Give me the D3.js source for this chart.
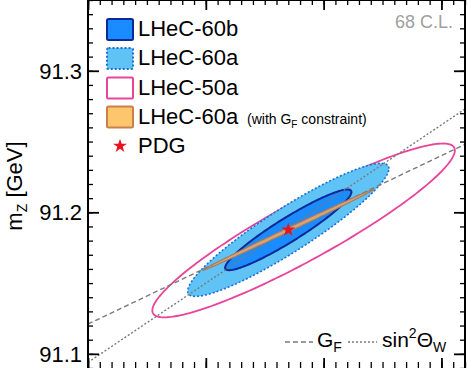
<!DOCTYPE html>
<html><head><meta charset="utf-8">
<script src="https://cdn.jsdelivr.net/npm/d3@7"></script>
<style>
body{margin:0;background:#fff}
svg{display:block}
text{font-family:"Liberation Sans",Arial,Helvetica,sans-serif}
</style>
</head><body>
<svg id="chart" width="474" height="368"></svg>
<script>
// ---------------- data ----------------
const seriesNames = ["LHeC-50a", "LHeC-60a", "LHeC-60b", "LHeC-60a"];
const centerMW = [80.3915, 80.385, 80.385, 80.385];
const centerMZ = [91.1872, 91.1876, 91.1876, 91.1876];
const halfMW   = [0.0642, 0.0427, 0.0268, 0.0363];   // x half-extent of each 68% C.L. contour
const halfMZ   = [0.0614, 0.0470, 0.0285, 0.0286];   // y half-extent
const corr     = [0.921, 0.921, 0.938, 0.9986];       // correlation
const pdgMW = [80.385];
const pdgMZ = [91.1876];
const gfLineMW = [80.30, 80.46];
const gfLineMZ = [91.121, 91.248];
const swLineMW = [80.30, 80.46];
const swLineMZ = [91.094, 91.273];
const yTickValues = [91.1, 91.2, 91.3];
const yTickLabels = ["91.1", "91.2", "91.3"];
const xTickValues = [80.30, 80.35, 80.40, 80.45];
const xDomain = [80.30, 80.46];
const yDomain = [91.09, 91.35];

// ---------------- layout ----------------
const svg = d3.select("#chart");
const L = 88, R = 465, T = 0, B = 368;
const x = d3.scaleLinear().domain(xDomain).range([L, R]);
const y = d3.scaleLinear().domain(yDomain).range([B, T]);

svg.append("defs").append("clipPath").attr("id", "plotclip")
  .append("rect").attr("x", L).attr("y", T).attr("width", R - L).attr("height", B - T);

const plot = svg.append("g").attr("clip-path", "url(#plotclip)");

function ellipsePts(i) {
  const pts = [], n = 240, s = Math.sqrt(1 - corr[i] * corr[i]);
  for (let k = 0; k <= n; k++) {
    const t = 2 * Math.PI * k / n;
    pts.push([centerMW[i] + halfMW[i] * Math.cos(t),
              centerMZ[i] + halfMZ[i] * (corr[i] * Math.cos(t) + s * Math.sin(t))]);
  }
  return pts;
}
const ell = d3.line().x(d => x(d[0])).y(d => y(d[1])).curve(d3.curveLinearClosed);

const styles = [
  {fill: "none",    stroke: "#e8449b", width: 1.8, dash: null},
  {fill: "#5fc3f6", stroke: "#1b6fd8", width: 1.6, dash: "2,2"},
  {fill: "#1a8cff", stroke: "#0b2a98", width: 2,   dash: null},
  {fill: "#d6a377", stroke: "#a87a5c", width: 1.1, dash: null}
];

// pink, light blue, dark blue
[0, 1, 2].forEach(i => {
  plot.append("path").attr("d", ell(ellipsePts(i)))
    .attr("fill", styles[i].fill).attr("stroke", styles[i].stroke)
    .attr("stroke-width", styles[i].width)
    .attr("stroke-dasharray", styles[i].dash);
});

// constraint lines
const seg = d3.line().x(d => x(d[0])).y(d => y(d[1]));
plot.append("path").attr("d", seg(gfLineMW.map((w, k) => [w, gfLineMZ[k]])))
  .attr("fill", "none").attr("stroke", "#7a7a7a").attr("stroke-width", 1.4)
  .attr("stroke-dasharray", "5,3");
plot.append("path").attr("d", seg(swLineMW.map((w, k) => [w, swLineMZ[k]])))
  .attr("fill", "none").attr("stroke", "#7a7a7a").attr("stroke-width", 1.4)
  .attr("stroke-dasharray", "2,2");

// orange G_F-constrained contour
plot.append("path").attr("d", ell(ellipsePts(3)))
  .attr("fill", styles[3].fill).attr("stroke", styles[3].stroke)
  .attr("stroke-width", styles[3].width);

// PDG star
plot.selectAll(".pdg").data(pdgMW).enter().append("path")
  .attr("transform", (d, k) => `translate(${x(d)},${y(pdgMZ[k])})`)
  .attr("d", d3.symbol().type(d3.symbolStar).size(60))
  .attr("fill", "#e8141b");

// ---------------- axes ----------------
const yMinor = d3.range(91.09, 91.3501, 0.01).map(v => +v.toFixed(3));
const xMinor = d3.range(80.30, 80.4601, 0.005).map(v => +v.toFixed(3));

function tickGroup(axis, transform) {
  const g = svg.append("g").attr("transform", transform).call(axis);
  g.select(".domain").remove();
  g.selectAll("line").attr("stroke", "#000").attr("stroke-width", 1.3);
  return g;
}
// left
tickGroup(d3.axisRight(y).tickValues(yMinor).tickSize(5).tickFormat(""), `translate(${L},0)`);
tickGroup(d3.axisRight(y).tickValues(yTickValues).tickSize(11).tickFormat(""), `translate(${L},0)`)
  .selectAll("line").attr("stroke-width", 1.8);
// right
tickGroup(d3.axisLeft(y).tickValues(yMinor).tickSize(5).tickFormat(""), `translate(${R},0)`);
tickGroup(d3.axisLeft(y).tickValues(yTickValues).tickSize(11).tickFormat(""), `translate(${R},0)`)
  .selectAll("line").attr("stroke-width", 1.8);
// top
tickGroup(d3.axisBottom(x).tickValues(xMinor).tickSize(5).tickFormat(""), `translate(0,${T})`);
tickGroup(d3.axisBottom(x).tickValues(xTickValues).tickSize(10).tickFormat(""), `translate(0,${T})`)
  .selectAll("line").attr("stroke-width", 1.8);
// bottom
tickGroup(d3.axisTop(x).tickValues(xMinor).tickSize(6).tickFormat(""), `translate(0,${B})`);
tickGroup(d3.axisTop(x).tickValues(xTickValues).tickSize(10).tickFormat(""), `translate(0,${B})`)
  .selectAll("line").attr("stroke-width", 1.8);

// y tick labels
svg.selectAll(".ylab").data(yTickValues).enter().append("text")
  .attr("x", 82).attr("y", d => y(d) + 8).attr("text-anchor", "end")
  .attr("font-size", 22).attr("fill", "#000")
  .text((d, k) => yTickLabels[k]);

// frame
svg.append("rect").attr("x", L).attr("y", T).attr("width", R - L).attr("height", B - T + 4)
  .attr("fill", "none").attr("stroke", "#000").attr("stroke-width", 2);

// y axis title
const yt = svg.append("text").attr("transform", "translate(22,186) rotate(-90)")
  .attr("text-anchor", "middle").attr("font-size", 22).attr("fill", "#000");
yt.append("tspan").text("m");
yt.append("tspan").attr("font-size", 14).attr("dy", 5).text("Z");
yt.append("tspan").attr("dy", -5).text(" [GeV]");

// ---------------- legend ----------------
const legOrder = [2, 1, 0, 3];
const legBase = [36, 65, 94.5, 123.5];
legOrder.forEach((si, k) => {
  const st = styles[si];
  svg.append("rect").attr("x", 107).attr("y", legBase[k] - 17).attr("width", 26).attr("height", 21)
    .attr("rx", 1.5)
    .attr("fill", si === 0 ? "#fff" : (si === 3 ? "#fdc66c" : st.fill))
    .attr("stroke", si === 3 ? "#c98049" : st.stroke).attr("stroke-width", 2)
    .attr("stroke-dasharray", st.dash);
  svg.append("text").attr("x", 138).attr("y", legBase[k]).attr("font-size", 22)
    .attr("fill", "#000").text(seriesNames[si]);
  if (si === 3) {
    const s = svg.append("text").attr("x", 247).attr("y", legBase[k]).attr("font-size", 14).attr("fill", "#000");
    s.append("tspan").text("(with G");
    s.append("tspan").attr("font-size", 10).attr("dy", 4).text("F");
    s.append("tspan").attr("dy", -4).text(" constraint)");
  }
});
svg.append("path").attr("transform", "translate(120,146)")
  .attr("d", d3.symbol().type(d3.symbolStar).size(60)).attr("fill", "#e8141b");
svg.append("text").attr("x", 138).attr("y", 152.5).attr("font-size", 22).attr("fill", "#000").text("PDG");

svg.append("text").attr("x", 453).attr("y", 28).attr("text-anchor", "end")
  .attr("font-size", 18).attr("fill", "#a0a0a0").text("68 C.L.");

// bottom legend for lines
svg.append("line").attr("x1", 285).attr("x2", 313).attr("y1", 342).attr("y2", 342)
  .attr("stroke", "#7a7a7a").attr("stroke-width", 1.4).attr("stroke-dasharray", "5,3");
const gf = svg.append("text").attr("x", 317).attr("y", 347).attr("font-size", 21).attr("fill", "#000");
gf.append("tspan").text("G");
gf.append("tspan").attr("font-size", 14).attr("dy", 5).text("F");
svg.append("line").attr("x1", 348).attr("x2", 377).attr("y1", 342).attr("y2", 342)
  .attr("stroke", "#7a7a7a").attr("stroke-width", 1.4).attr("stroke-dasharray", "2,2");
const sw = svg.append("text").attr("x", 382).attr("y", 347).attr("font-size", 21).attr("fill", "#000");
sw.append("tspan").text("sin");
sw.append("tspan").attr("font-size", 14).attr("dy", -9).text("2");
sw.append("tspan").attr("dy", 9).text("Θ");
sw.append("tspan").attr("font-size", 14).attr("dy", 5).text("W");
</script>
</body></html>
